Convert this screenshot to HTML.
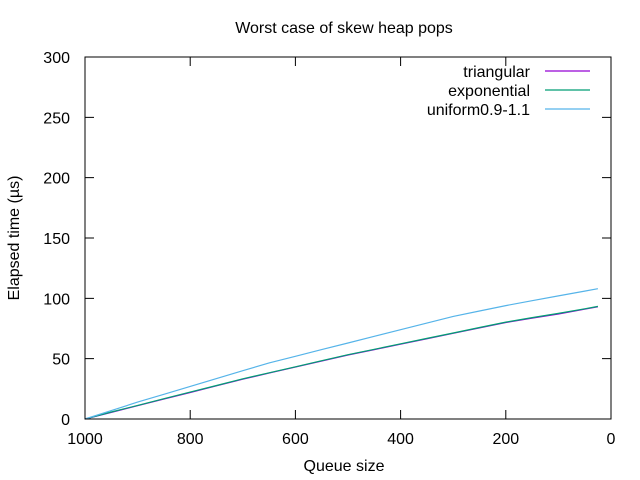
<!DOCTYPE html>
<html><head><meta charset="utf-8"><style>
body{margin:0;background:#fff}
svg{display:block;font-family:"Liberation Sans",sans-serif;font-size:16px}
</style></head><body>
<svg id="chart" width="640" height="480" viewBox="0 0 640 480">
<text x="344" y="33" text-anchor="middle">Worst case of skew heap pops</text>
<text x="344" y="471" text-anchor="middle">Queue size</text>
<text transform="translate(19,238) rotate(-90)" text-anchor="middle">Elapsed time (µs)</text>
<g id="axes"></g>
<g id="series"></g>
<rect x="85" y="57" width="526" height="362" fill="none" stroke="#000" stroke-width="1"/>
<g id="legend"></g>
</svg>
<script>
const xTicks=[1000,800,600,400,200,0];
const yTicks=[0,50,100,150,200,250,300];
const sizes=[1000,950,900,850,800,750,700,650,600,550,500,450,400,350,300,250,200,150,100,50,25];
const triangular=[0,5.5,11,16.5,22,27.5,33,38,43,48,53,57.5,62,66.5,71,75.5,80,83.5,87,91,93];
const exponential=[0,5.8,11.3,16.8,22.3,27.8,33.3,38.3,43.3,48.3,53.3,57.8,62.3,66.8,71.3,75.8,80.3,84,87.5,91.3,93.3];
const uniform=[0,7,14,20.5,27,33.5,40,46.5,52,57.5,63,68.5,74,79.5,85,89.5,94,98,102,106,108];
const names=["triangular","exponential","uniform0.9-1.1"];
const colors=["#9400d3","#009e73","#56b4e9"];
const X=v=>85+(1000-v)/1000*526;
const Y=v=>419-v/300*362;
const ns="http://www.w3.org/2000/svg";
const axes=document.getElementById('axes');
function mk(tag,attrs,parent){const e=document.createElementNS(ns,tag);for(const k in attrs)e.setAttribute(k,attrs[k]);parent.appendChild(e);return e;}
xTicks.forEach(t=>{
  const x=X(t);
  const l=mk('path',{d:`M${x},419v-9M${x},57v9`,stroke:'#000'},axes);
  
  
  const tx=mk('text',{x:x,y:444,'text-anchor':'middle'},axes);tx.textContent=t;
  
  
});
yTicks.forEach(t=>{
  const y=Y(t);
  const l=mk('path',{d:`M85,${y}h9M611,${y}h-9`,stroke:'#000'},axes);
  
  
  const tx=mk('text',{x:70,y:y+6,'text-anchor':'end'},axes);tx.textContent=t;
  
  
});
const series=document.getElementById('series');
[triangular,exponential,uniform].forEach((arr,i)=>{
  let d='';
  arr.forEach((v,j)=>{d+=(j?'L':'M')+X(sizes[j]).toFixed(1)+','+Y(v).toFixed(1);});
  const p=mk('path',{d:d,fill:'none',stroke:colors[i],'stroke-width':1.2},series);
  
  
});
const legend=document.getElementById('legend');
names.forEach((n,i)=>{
  const y=71+i*19;
  const tx=mk('text',{x:530,y:y+6,'text-anchor':'end'},legend);tx.textContent=n;
  
  
  const l=mk('line',{x1:545,x2:590,y1:y,y2:y,stroke:colors[i],'stroke-width':1.2},legend);
  
  
});
</script>
</body></html>
